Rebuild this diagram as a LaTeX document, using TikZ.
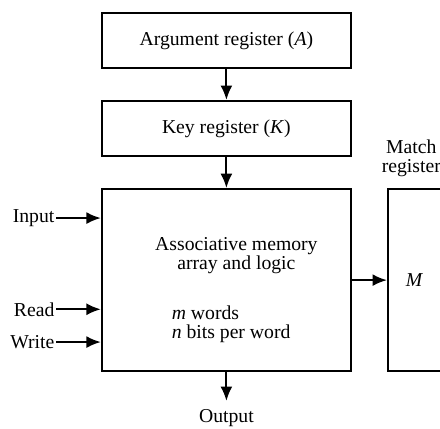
\documentclass[tikz,border=0pt]{standalone}
\usepackage{fontspec}
\setmainfont{Liberation Serif}
\usetikzlibrary{positioning, calc, arrows.meta}

\begin{document}
\begin{tikzpicture}[font=\fontsize{14}{13.5}\selectfont,
	box/.style={draw, line width=1.5pt, inner sep=0pt,
		minimum width=6.225cm},
	flow/.style={-{Latex[length=3.6mm, width=3mm]}, line width=1.5pt}]
    % page size
    \useasboundingbox (0,0) rectangle (11,-10.7);

    % Add the registers
        \node[box,
              minimum height=1.375cm] (arg) at (5.66,-1.01) {Argument register (\textit{A})};
		\node[box,
			below=0.775cm of arg,
        	minimum height=1.375cm] (key) {Key register (\textit{K})};
		\node[box,
			below=0.775cm of key,
        	minimum height=4.55cm] (mem) {};
		\node[box,
			right=0.875cm of mem,
        	minimum width=1.325cm,
        	minimum height=4.55cm] (match) {\textit{M}};
		\node[above=0.15cm of match,
			xshift=-0.08cm,
			align=center] (matchlbl) {Match\\register};

    % text inside the array
		\node[align=center] (memtxt) at ($(mem.center)+(0.25,0.62)$)
			{Associative memory\\array and logic};
		\node[align=left,
			anchor=west] (size) at ($(mem.west)+(1.65,-1.1)$)
			{\textit{m} words\\\textit{n} bits per word};

    % control inputs
		\coordinate (in) at ($(mem.north west)+(0,-0.75)$);
		\coordinate (rd) at ($(mem.north west)+(0,-3.03)$);
		\coordinate (wr) at ($(mem.north west)+(0,-3.85)$);
		\node[left=1.12cm of in, inner sep=1pt] (inlbl) {Input};
		\node[left=1.12cm of rd, inner sep=1pt] (rdlbl) {Read};
		\node[left=1.12cm of wr, inner sep=1pt] (wrlbl) {Write};

		\coordinate[below=0.72cm of mem] (out);
		\node[below=0.1cm of out] (outlbl) {Output};

       \draw[flow]
			(arg) -- (key);
       \draw[flow]
			(key) -- (mem);
       \draw[flow]
			(mem.east |- match) -- (match);
       \draw[flow]
			(mem) -- (out);
       \draw[flow]
			(inlbl) -- (in);
       \draw[flow]
			(rdlbl) -- (rd);
       \draw[flow]
			(wrlbl) -- (wr);
    \end{tikzpicture}
\end{document}
